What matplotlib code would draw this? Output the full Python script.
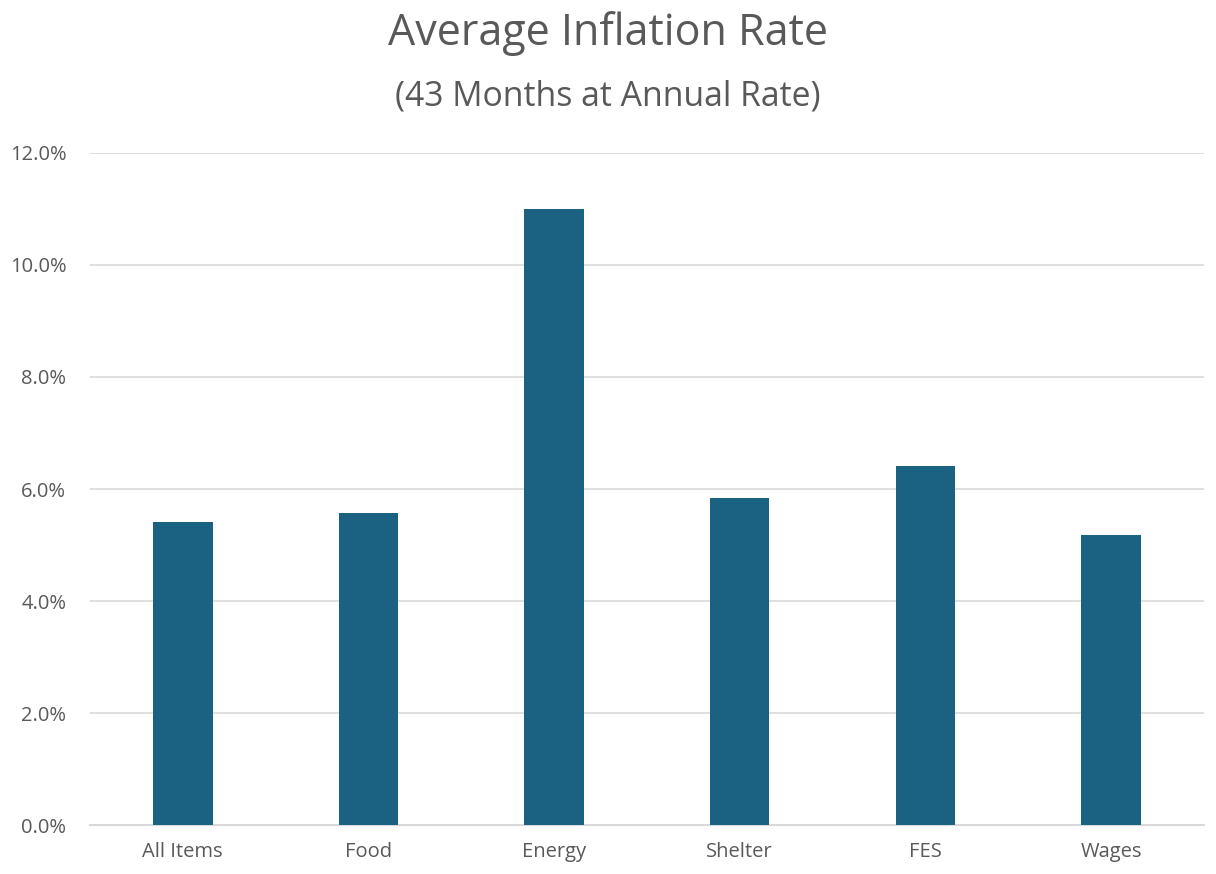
import matplotlib.pyplot as plt
from matplotlib.ticker import FuncFormatter

categories = ["All Items", "Food", "Energy", "Shelter", "FES", "Wages"]
rates = [5.41, 5.57, 11.0, 5.84, 6.41, 5.18]

plt.rcParams["font.family"] = ["Open Sans", "DejaVu Sans"]

fig = plt.figure(figsize=(12.16, 8.74), dpi=100)
ax = fig.add_axes([0.074, 0.056, 0.916, 0.769])

ax.bar(range(len(categories)), rates, width=0.32, color="#1B6282", zorder=3)

ax.set_xlim(-0.5, len(categories) - 0.5)
ax.set_ylim(0, 12)
ax.set_yticks(range(0, 13, 2))
ax.yaxis.set_major_formatter(FuncFormatter(lambda v, p: f"{v:.1f}%"))
ax.set_xticks(range(len(categories)))
ax.set_xticklabels(categories)

ax.grid(axis="y", color="#D9D9D9", linewidth=1.2, zorder=0)
for s in ["top", "right", "left"]:
    ax.spines[s].set_visible(False)
ax.spines["bottom"].set_color("#D9D9D9")
ax.spines["bottom"].set_linewidth(1.5)
ax.tick_params(axis="both", length=0, labelsize=14.5, colors="#595959")
ax.tick_params(axis="y", pad=17)
ax.tick_params(axis="x", pad=12)

fig.text(0.5, 0.962, "Average Inflation Rate", ha="center", va="center",
         fontsize=31, color="#595959")
fig.text(0.5, 0.89, "(43 Months at Annual Rate)", ha="center", va="center",
         fontsize=24.3, color="#595959")

fig.savefig("out.png", dpi=100)
